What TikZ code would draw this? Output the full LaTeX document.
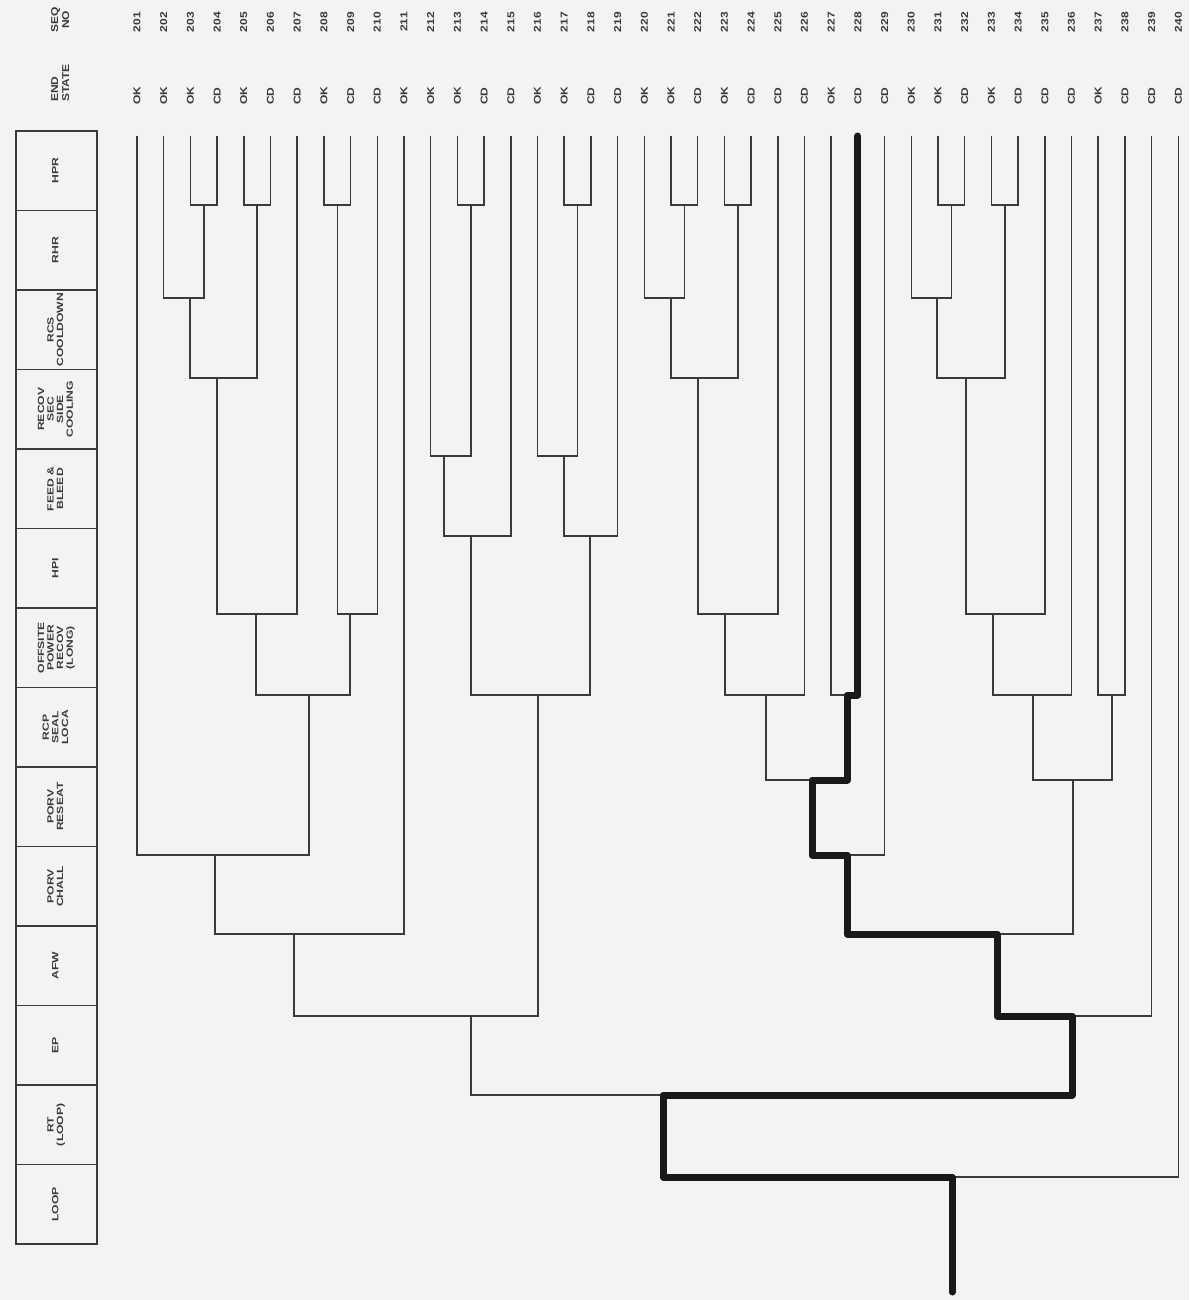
\documentclass[tikz,border=0pt]{standalone}
\usepackage{fontspec}
\setmainfont{Liberation Sans}
\usepackage{graphicx}
\definecolor{ink}{HTML}{3A3A3A}
\definecolor{paper}{HTML}{F3F3F3}
\newcommand{\hdrtext}[1]{\scalebox{1.35}[1]{\begin{tabular}{@{}c@{}}#1\end{tabular}}}
\newcommand{\lbltext}[1]{\scalebox{1.2}[1]{#1}}
\tikzset{
  tree/.style={draw=ink, line width=1.5pt},
  hlpath/.style={draw=black!90, line width=7pt, line join=round, line cap=round},
  hdrbox/.style={draw=ink, line width=1.6pt, minimum width=81pt, minimum height=79.5pt, inner sep=0pt},
  seqlab/.style={rotate=90, font=\fontsize{10}{11}\selectfont\bfseries, text=ink, inner sep=0pt},
  hdrlab/.style={rotate=90, font=\fontsize{9}{9.6}\selectfont\bfseries, text=ink, inner sep=0pt},
}
\begin{document}
\begin{tikzpicture}[x=1pt,y=-1pt]
\useasboundingbox (0,0) rectangle (1189,1300);
\fill[paper] (0,0) rectangle (1189,1300);

% column titles
\node[seqlab, align=center] (seqt) at (61.5,20) {\lbltext{\begin{tabular}{@{}c@{}}SEQ\\NO\end{tabular}}};
\node[seqlab, anchor=west] (endt) at (61.5,102) {\lbltext{\begin{tabular}{@{}l@{}}END\\STATE\end{tabular}}};

% header boxes
\foreach \k/\txt in {0/HPR, 1/RHR, 2/{RCS\\COOLDOWN}, 3/{RECOV\\SEC\\SIDE\\COOLING},
  4/{FEED \&\\BLEED}, 5/HPI, 6/{OFFSITE\\POWER\\RECOV\\(LONG)}, 7/{RCP\\SEAL\\LOCA},
  8/{PORV\\RESEAT}, 9/{PORV\\CHALL}, 10/AFW, 11/EP, 12/{RT\\(LOOP)}, 13/LOOP}{
  \node[hdrbox] (hb\k) at (56.5,{131+79.5*(\k+0.5)}) {};
  \node[hdrlab] (hl\k) at (hb\k.center) {\hdrtext{\txt}};
}

% sequence columns, numbers and end states
\foreach \n/\st in {201/OK,202/OK,203/OK,204/CD,205/OK,206/CD,207/CD,208/OK,209/CD,210/CD,
  211/OK,212/OK,213/OK,214/CD,215/CD,216/OK,217/OK,218/CD,219/CD,220/OK,
  221/OK,222/CD,223/OK,224/CD,225/CD,226/CD,227/OK,228/CD,229/CD,230/OK,
  231/OK,232/CD,233/OK,234/CD,235/CD,236/CD,237/OK,238/CD,239/CD,240/CD}{
  \pgfmathsetmacro{\xx}{137+(\n-201)*26.7}
  \coordinate (t\n) at (\xx,136);
  \node[seqlab] (sq\n) at (\xx,22) {\lbltext{\n}};
  \node[seqlab] (es\n) at (\xx,96) {\lbltext{\st}};
}

% branch points (x of stem, level of the heading)
\def\lHPR{205}\def\lRHR{298}\def\lRCS{378}\def\lREC{456}\def\lFB{536}
\def\lHPI{614}\def\lOFF{695}\def\lRCP{780}\def\lRES{855}\def\lCHL{934}
\def\lAFW{1016}\def\lEP{1095}\def\lRT{1177}
% group 201-211
\coordinate (a1) at (203.75,\lHPR);
\coordinate (a2) at (190,\lRHR);
\coordinate (a3) at (257.2,\lHPR);
\coordinate (a4) at (217,\lRCS);
\coordinate (a5) at (256,\lHPI);
\coordinate (a6) at (337.3,\lHPR);
\coordinate (a7) at (350,\lHPI);
\coordinate (a8) at (309,\lOFF);
\coordinate (a9) at (215,\lRES);
\coordinate (a10) at (294,\lCHL);
% group 212-219
\coordinate (b1) at (470.8,\lHPR);
\coordinate (b2) at (444,\lREC);
\coordinate (b3) at (471,\lFB);
\coordinate (b4) at (577.6,\lHPR);
\coordinate (b5) at (564,\lREC);
\coordinate (b6) at (590,\lFB);
\coordinate (b7) at (538,\lOFF);
\coordinate (ab) at (471,\lAFW);
% group 220-229
\coordinate (c1) at (684.4,\lHPR);
\coordinate (c2) at (671,\lRHR);
\coordinate (c3) at (737.8,\lHPR);
\coordinate (c4) at (698,\lRCS);
\coordinate (c5) at (725,\lHPI);
\coordinate (c6) at (766,\lOFF);
\coordinate (c7) at (847,\lOFF);
\coordinate (c8) at (812,\lRCP);
\coordinate (c9) at (847,\lRES);
% group 230-238
\coordinate (d1) at (951.4,\lHPR);
\coordinate (d2) at (937,\lRHR);
\coordinate (d3) at (1004.8,\lHPR);
\coordinate (d4) at (966,\lRCS);
\coordinate (d5) at (993,\lHPI);
\coordinate (d6) at (1033,\lOFF);
\coordinate (d7) at (1112,\lOFF);
\coordinate (d8) at (1073,\lRCP);
\coordinate (cd) at (997,\lCHL);
% lower tree
\coordinate (e1) at (1072,\lAFW);
\coordinate (e2) at (663,\lEP);
\coordinate (e3) at (952,\lRT);
\coordinate (root) at (952,1292);

% thin branches
\draw[tree] (t203) |- (a1) -| (t204);
\draw[tree] (t202) |- (a2) -| (a1);
\draw[tree] (t205) |- (a3) -| (t206);
\draw[tree] (a2) |- (a4) -| (a3);
\draw[tree] (a4) |- (a5) -| (t207);
\draw[tree] (t208) |- (a6) -| (t209);
\draw[tree] (a6) |- (a7) -| (t210);
\draw[tree] (a5) |- (a8) -| (a7);
\draw[tree] (t201) |- (a9) -| (a8);
\draw[tree] (a9) |- (a10) -| (t211);

\draw[tree] (t213) |- (b1) -| (t214);
\draw[tree] (t212) |- (b2) -| (b1);
\draw[tree] (b2) |- (b3) -| (t215);
\draw[tree] (t217) |- (b4) -| (t218);
\draw[tree] (t216) |- (b5) -| (b4);
\draw[tree] (b5) |- (b6) -| (t219);
\draw[tree] (b3) |- (b7) -| (b6);
\draw[tree] (a10) |- (ab) -| (b7);

\draw[tree] (t221) |- (c1) -| (t222);
\draw[tree] (t220) |- (c2) -| (c1);
\draw[tree] (t223) |- (c3) -| (t224);
\draw[tree] (c2) |- (c4) -| (c3);
\draw[tree] (c4) |- (c5) -| (t225);
\draw[tree] (c5) |- (c6) -| (t226);
\draw[tree] (t227) |- (c7) -| (t228);
\draw[tree] (c6) |- (c8) -| (c7);
\draw[tree] (c8) |- (c9) -| (t229);

\draw[tree] (t231) |- (d1) -| (t232);
\draw[tree] (t230) |- (d2) -| (d1);
\draw[tree] (t233) |- (d3) -| (t234);
\draw[tree] (d2) |- (d4) -| (d3);
\draw[tree] (d4) |- (d5) -| (t235);
\draw[tree] (d5) |- (d6) -| (t236);
\draw[tree] (t237) |- (d7) -| (t238);
\draw[tree] (d6) |- (d8) -| (d7);
\draw[tree] (c9) |- (cd) -| (d8);

\draw[tree] (cd) |- (e1) -| (t239);
\draw[tree] (ab) |- (e2) -| (e1);
\draw[tree] (e2) |- (e3) -| (t240);
\draw[tree] (e3) -- (root);

% highlighted sequence 228
\draw[hlpath] (root) -- (e3) -| (e2) -| (e1) -| (cd) -| (c9) -| (c8) -| (c7) -| (t228);
\end{tikzpicture}
\end{document}
